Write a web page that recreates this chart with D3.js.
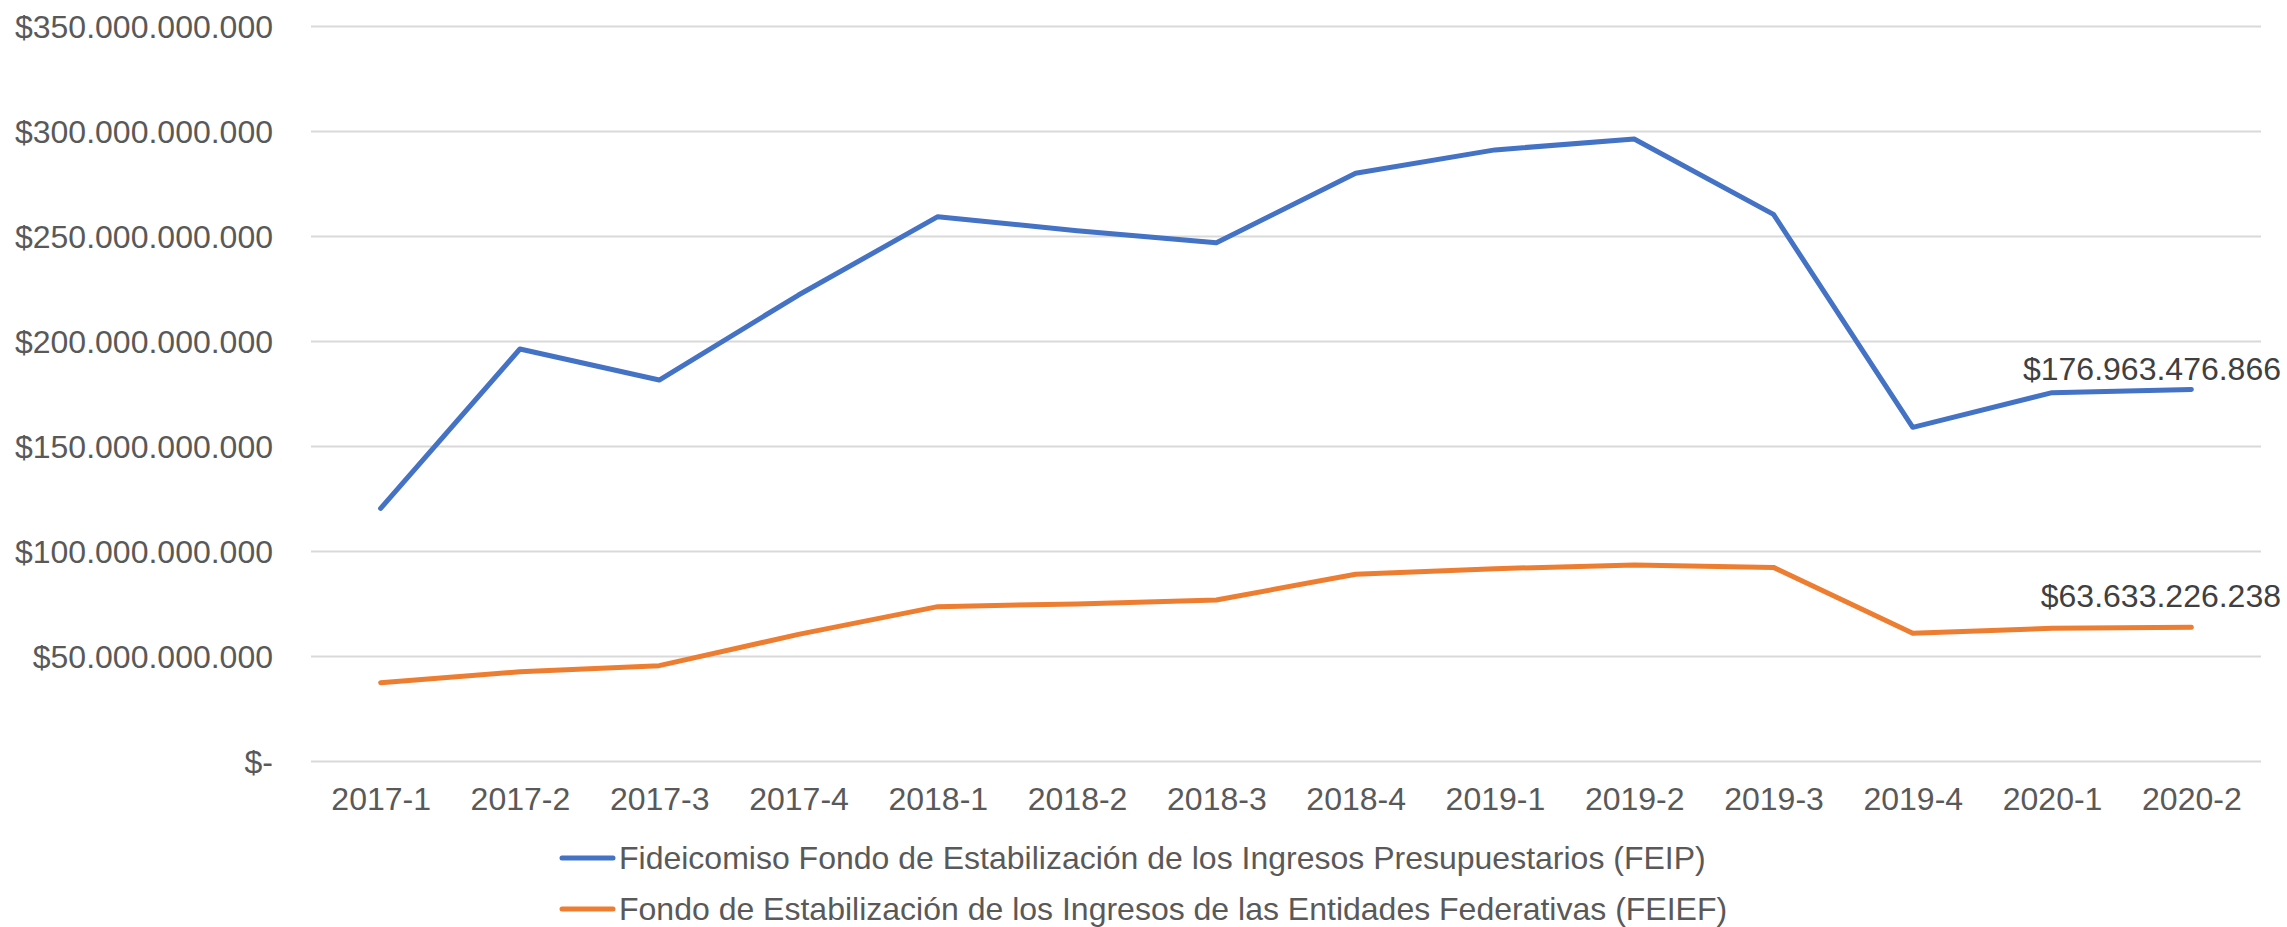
<!DOCTYPE html>
<html>
<head>
<meta charset="UTF-8" />
<title>FEIP y FEIEF</title>
<script type="text/javascript" src="https://cdn.jsdelivr.net/npm/d3@7/dist/d3.min.js"></script>
<style>
	body { margin: 0; background: #fff; }
	svg { display: block; font-family: "Liberation Sans", Arial, sans-serif; }
</style>
</head>
<body>

	<div id="chart"><svg></svg></div>

	<script type="text/javascript">
		// periodos (trimestres)
		var periodos = ["2017-1", "2017-2", "2017-3", "2017-4", "2018-1", "2018-2", "2018-3",
			"2018-4", "2019-1", "2019-2", "2019-3", "2019-4", "2020-1", "2020-2"];

		// saldos en pesos
		var feip = [120.3e9, 196.2e9, 181.4e9, 221.9e9, 259.2e9, 252.5e9, 246.8e9,
			279.9e9, 291.0e9, 296.2e9, 260.3e9, 158.9e9, 175.4e9, 176963476866];
		var feief = [37.3e9, 42.5e9, 45.4e9, 60.3e9, 73.5e9, 74.8e9, 76.7e9,
			88.9e9, 91.6e9, 93.3e9, 92.2e9, 60.8e9, 63.2e9, 63633226238];

		var yTicks = [0, 50e9, 100e9, 150e9, 200e9, 250e9, 300e9, 350e9];

		var nombres = ["Fideicomiso Fondo de Estabilización de los Ingresos Presupuestarios (FEIP)",
			"Fondo de Estabilización de los Ingresos de las Entidades Federativas (FEIEF)"];
		var colores = ["#4472C4", "#ED7D31"];

		// ojo: "top" es window.top, no usarlo como variable global
		var w = 2287, h = 927;
		var pLeft = 311, pRight = 2261, pTop = 26, pBottom = 761;

		var mx = d3.formatLocale({decimal: ",", thousands: ".", grouping: [3], currency: ["$", ""]});
		var fmt = mx.format("$,.0f");
		var fmtTick = function(v){ return v === 0 ? "$-" : fmt(v); };

		var svg = d3.select("#chart svg").attr("width", w).attr("height", h);

		var x = d3.scalePoint().domain(periodos).range([pLeft, pRight]).padding(0.5);
		var y = d3.scaleLinear().domain([0, 350e9]).range([pBottom, pTop]);

		// lineas de cuadricula + etiquetas eje y
		var yAxis = svg.append("g")
			.attr("transform", "translate(" + pLeft + ",0)")
			.call(d3.axisLeft(y).tickValues(yTicks).tickFormat(fmtTick)
				.tickSize(-(pRight - pLeft)).tickPadding(38));
		yAxis.select(".domain").remove();
		yAxis.selectAll(".tick line").attr("stroke", "#d9d9d9").attr("stroke-width", 2);
		yAxis.selectAll(".tick text").attr("fill", "#595959").attr("font-size", 32)
			.attr("font-family", null).attr("dy", "0.35em");

		// eje x
		var xAxis = svg.append("g")
			.attr("transform", "translate(0," + pBottom + ")")
			.call(d3.axisBottom(x).tickSize(0).tickPadding(49));
		xAxis.select(".domain").remove();
		xAxis.selectAll(".tick text").attr("fill", "#595959").attr("font-size", 32)
			.attr("font-family", null).attr("dy", 0);

		var line = d3.line()
			.x(function(d, i){ return x(periodos[i]); })
			.y(function(d){ return y(d); });

		var series = [feip, feief];

		svg.selectAll("path.serie")
			.data(series)
			.enter()
			.append("path")
			.attr("class", "serie")
			.attr("d", line)
			.attr("fill", "none")
			.attr("stroke", function(d, i){ return colores[i]; })
			.attr("stroke-width", 5)
			.attr("stroke-linejoin", "round")
			.attr("stroke-linecap", "round");

		// etiqueta del ultimo valor
		var offs = [-9, -20];
		svg.selectAll("text.etiqueta")
			.data(series)
			.enter()
			.append("text")
			.attr("class", "etiqueta")
			.attr("x", w - 6)
			.attr("y", function(d, i){ return y(d[d.length - 1]) + offs[i]; })
			.attr("text-anchor", "end")
			.attr("font-size", 32)
			.attr("fill", "#404040")
			.text(function(d){ return fmt(d[d.length - 1]); });

		// leyenda
		var leg = svg.selectAll("g.leyenda")
			.data(nombres)
			.enter()
			.append("g")
			.attr("class", "leyenda")
			.attr("transform", function(d, i){ return "translate(560," + (858 + i * 51) + ")"; });
		leg.append("line")
			.attr("x1", 2).attr("x2", 53)
			.attr("stroke", function(d, i){ return colores[i]; })
			.attr("stroke-width", 5)
			.attr("stroke-linecap", "round");
		leg.append("text")
			.attr("x", 59)
			.attr("dy", "0.35em")
			.attr("font-size", 32)
			.attr("fill", "#595959")
			.text(function(d){ return d; });
	</script>

</body>
</html>
